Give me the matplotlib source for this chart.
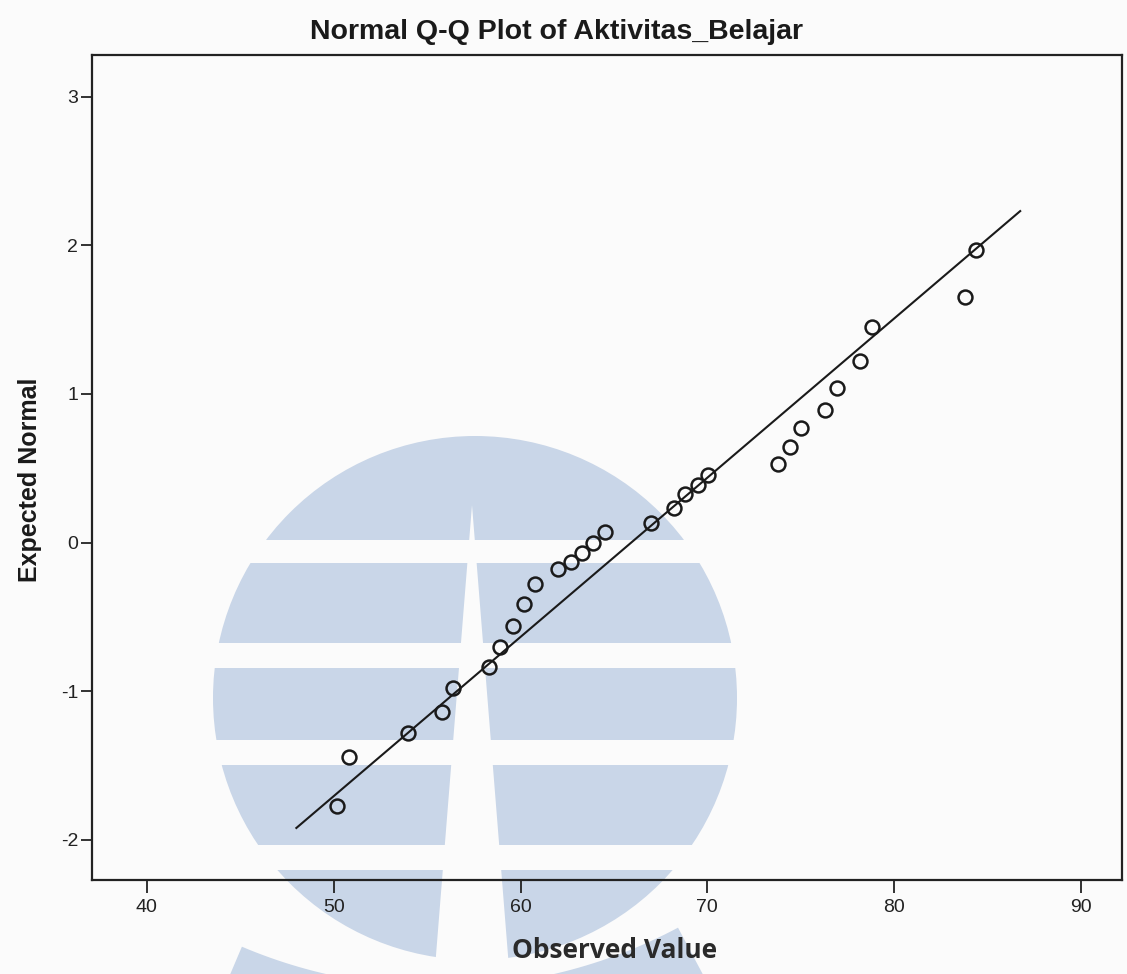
# Normal Q-Q plot (SPSS style) with the light blue watermark behind it
import matplotlib
matplotlib.use('Agg')
import matplotlib.pyplot as plt
import matplotlib.patches as mpatches
import numpy as np

plt.rcParams['font.family'] = ['Liberation Sans', 'DejaVu Sans']
plt.rcParams['axes.unicode_minus'] = False

# data
observed = [50.2, 50.8, 54.0, 55.8, 56.4, 58.3, 58.9, 59.6, 60.2, 60.75,
            62.0, 62.7, 63.3, 63.9, 64.5, 67.0, 68.2, 68.8, 69.5, 70.05,
            73.8, 74.4, 75.0, 76.3, 76.95, 78.2, 78.8, 83.8, 84.4]
expected = [-1.775, -1.44, -1.28, -1.14, -0.98, -0.84, -0.70, -0.56, -0.41, -0.28,
            -0.18, -0.13, -0.07, 0.0, 0.07, 0.13, 0.23, 0.33, 0.39, 0.457,
            0.53, 0.64, 0.77, 0.89, 1.04, 1.22, 1.45, 1.65, 1.97]
line_x = [48.0, 86.75]
line_y = [-1.92, 2.23]
xticks = [40, 50, 60, 70, 80, 90]
yticks = [-2, -1, 0, 1, 2, 3]

W, H = 1127, 974
paper = '#fbfbfb'
fig = plt.figure(figsize=(W/100, H/100), dpi=100)
fig.patch.set_facecolor(paper)

# watermark (pixel coordinates, y down)
blue = '#c9d6e8'
bg = fig.add_axes([0, 0, 1, 1], zorder=0)
bg.set_xlim(0, W)
bg.set_ylim(H, 0)
bg.axis('off')
bg.add_patch(mpatches.Circle((475, 698), 262, color=blue, lw=0))
for y0, y1 in [(540, 563), (643, 668), (740, 765), (845, 870)]:
    bg.add_patch(mpatches.Rectangle((150, y0), 700, y1 - y0, color=paper, lw=0))
bg.add_patch(mpatches.Polygon([(472, 505), (434.5, 974), (509.5, 974)], color=paper, lw=0))
# swoosh under the circle
th = np.radians(np.linspace(113, 62, 60))
inner = np.column_stack([440 + 507*np.cos(th), 480 + 507*np.sin(th)])
outer = np.column_stack([440 + 580*np.cos(th[::-1]), 480 + 580*np.sin(th[::-1])])
bg.add_patch(mpatches.Polygon(np.vstack([inner, outer]), color=blue, lw=0))

# main plot
ax = fig.add_axes([92/W, 1 - 880/H, (1122 - 92)/W, (880 - 55)/H], zorder=1)
ax.set_facecolor('none')
ax.plot(line_x, line_y, color='#1a1a1a', lw=1.5)
ax.plot(observed, expected, 'o', mfc='none', mec='#1a1a1a', ms=10, mew=1.8)

ax.set_xlim(37.06, 92.2)
ax.set_ylim(-2.27, 3.28)
ax.set_xticks(xticks)
ax.set_yticks(yticks)
ax.tick_params(axis='x', length=9, width=1.3, labelsize=14, pad=5, colors='#222222')
ax.tick_params(axis='y', length=8, width=1.3, labelsize=14, pad=2, colors='#222222')
for s in ax.spines.values():
    s.set_linewidth(1.6)
    s.set_color('#222222')

fig.text(556/W, 1 - 32/H, 'Normal Q-Q Plot of Aktivitas_Belajar', ha='center', va='center',
         fontsize=20.5, fontweight='bold', color='#1a1a1a')
fig.text(30/W, 1 - 480/H, 'Expected Normal', rotation=90, ha='center', va='center',
         fontsize=18, fontweight='bold', color='#1a1a1a')
fig.text(615/W, 1 - 950/H, 'Observed Value', ha='center', va='center',
         fontsize=19, fontweight='bold', color='#2a2a2a', family=['Open Sans', 'DejaVu Sans'])

plt.savefig('out.png', dpi=100, facecolor=fig.get_facecolor())
